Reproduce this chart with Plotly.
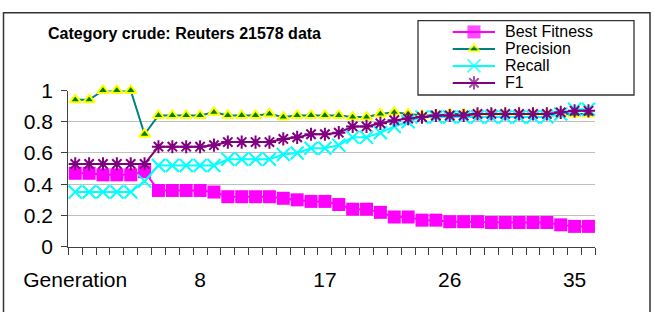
import plotly.graph_objects as go

# ---------------- data ----------------
generations = ["Generation", "0", "1", "2", "3", "4", "5", "6", "7", "8", "9", "10",
               "11", "12", "13", "14", "15", "16", "17", "18", "19", "20", "21",
               "22", "23", "24", "25", "26", "27", "28", "29", "30", "31", "32",
               "33", "34", "35", "36"]

best_fitness = [0.47, 0.47, 0.46, 0.46, 0.46, 0.48, 0.36, 0.36, 0.36, 0.36,
                0.35, 0.32, 0.32, 0.32, 0.32, 0.31, 0.30, 0.29, 0.29, 0.27,
                0.24, 0.24, 0.22, 0.19, 0.19, 0.17, 0.17, 0.16, 0.16, 0.16,
                0.155, 0.155, 0.155, 0.155, 0.155, 0.14, 0.13, 0.13]

precision = [0.94, 0.94, 1.0, 1.0, 1.0, 0.72, 0.84, 0.84, 0.84, 0.84,
             0.86, 0.84, 0.84, 0.84, 0.85, 0.83, 0.84, 0.84, 0.84, 0.84,
             0.83, 0.83, 0.85, 0.86, 0.85, 0.84, 0.84, 0.85, 0.85, 0.85,
             0.85, 0.85, 0.85, 0.85, 0.85, 0.85, 0.85, 0.85]

recall = [0.35, 0.35, 0.35, 0.35, 0.35, 0.42, 0.52, 0.52, 0.52, 0.52,
          0.52, 0.56, 0.56, 0.56, 0.56, 0.59, 0.60, 0.63, 0.63, 0.65,
          0.70, 0.70, 0.73, 0.77, 0.80, 0.83, 0.83, 0.83, 0.83, 0.83,
          0.83, 0.83, 0.83, 0.83, 0.83, 0.85, 0.88, 0.88]

f1 = [0.53, 0.53, 0.53, 0.53, 0.53, 0.53, 0.64, 0.64, 0.64, 0.64,
      0.65, 0.67, 0.67, 0.67, 0.67, 0.69, 0.70, 0.72, 0.72, 0.73,
      0.77, 0.77, 0.79, 0.81, 0.82, 0.83, 0.84, 0.84, 0.84, 0.85,
      0.85, 0.85, 0.85, 0.85, 0.85, 0.86, 0.87, 0.87]

series_names = ["Best Fitness", "Precision", "Recall", "F1"]
y_ticks = [0, 0.2, 0.4, 0.6, 0.8, 1]
y_tick_text = ["0", "0.2", "0.4", "0.6", "0.8", "1"]
x_label_step = 9
title_text = "Category crude: Reuters 21578 data"

# ---------------- styling ----------------
W, H = 654, 312
FONT = "Liberation Sans, Arial, sans-serif"
AXC = "#404040"

styles = {
    "Best Fitness": dict(line=dict(color="#FF00FF", width=2),
                         marker=dict(symbol="square", size=13, color="#FF00FF",
                                     line=dict(width=0))),
    "Precision": dict(line=dict(color="#008080", width=2),
                      marker=dict(symbol="triangle-up", size=10, color="#008000",
                                  line=dict(color="#FFFF00", width=2))),
    "Recall": dict(line=dict(color="#00FFFF", width=2),
                   marker=dict(symbol="x-thin", size=13, color="#00FFFF",
                               line=dict(color="#00FFFF", width=2))),
    "F1": dict(line=dict(color="#800080", width=2),
               marker=dict(symbol="asterisk", size=11, color="#800080",
                           line=dict(color="#800080", width=2))),
}
values = {"Best Fitness": best_fitness, "Precision": precision,
          "Recall": recall, "F1": f1}

# plot area in pixels
PL, PR, PT, PB = 68.3, 595.4, 90.5, 246.7
# legend box in pixels
LL, LR, LT, LB = 418, 634, 20.7, 95

fig = go.Figure()

for name in series_names:
    st = styles[name]
    fig.add_trace(go.Scatter(x=generations, y=values[name], mode="lines+markers",
                             name=name, line=st["line"], marker=st["marker"],
                             cliponaxis=False, showlegend=False, hoverinfo="skip"))

# dummy trace so the overlay label axis is drawn
fig.add_trace(go.Scatter(x=[generations[0]], y=[None], yaxis="y2",
                         showlegend=False, hoverinfo="skip", mode="markers"))

# manual legend (layout glyphs only)
row_h = 17.0
row0 = 11.2
for i, name in enumerate(series_names):
    st = styles[name]
    yy = row0 + i * row_h
    mk = dict(st["marker"])
    mk["size"] = [0, st["marker"]["size"], 0]
    fig.add_trace(go.Scatter(x=[34.7, 56, 77], y=[yy, yy, yy], mode="lines+markers",
                             line=st["line"], marker=mk, xaxis="x3", yaxis="y3",
                             showlegend=False, hoverinfo="skip", cliponaxis=False))
    fig.add_annotation(x=86, y=yy, xref="x3", yref="y3", text=name, showarrow=False,
                       xanchor="left", yanchor="middle", borderpad=0,
                       font=dict(family=FONT, size=16, color="black"))

x_tick_text = [g if i % x_label_step == 0 else "" for i, g in enumerate(generations)]

fig.update_layout(
    width=W, height=H,
    margin=dict(l=0, r=0, t=0, b=0),
    paper_bgcolor="white", plot_bgcolor="white",
    showlegend=False,
    font=dict(family=FONT, color="black"),
    xaxis=dict(domain=[PL / W, PR / W], type="category",
               categoryorder="array", categoryarray=generations,
               range=[-0.5, len(generations) - 0.5],
               tickvals=generations, ticktext=x_tick_text, tickangle=0,
               tickson="boundaries", ticks="outside", ticklen=7,
               tickcolor=AXC, tickwidth=1,
               showline=True, linecolor=AXC, linewidth=1.3,
               showgrid=False, zeroline=False, automargin=False,
               tickfont=dict(family=FONT, size=21, color="black"),
               ticklabelstandoff=14, anchor="y", fixedrange=True),
    yaxis=dict(domain=[(H - PB) / H, (H - PT) / H], range=[0, 1],
               tickvals=y_ticks[1:-1], showticklabels=False, ticks="",
               showgrid=True, gridcolor="#C0C0C0", gridwidth=1, automargin=False,
               showline=False, zeroline=False, anchor="x", fixedrange=True),
    yaxis2=dict(overlaying="y", anchor="x", range=[0, 1],
                tickvals=y_ticks, ticktext=y_tick_text,
                ticks="outside", ticklen=6, tickcolor=AXC, tickwidth=1,
                showline=True, linecolor=AXC, linewidth=1.3,
                showgrid=False, zeroline=False, automargin=False,
                tickfont=dict(family=FONT, size=21, color="black"),
                ticklabelstandoff=4, fixedrange=True),
    xaxis3=dict(domain=[LL / W, LR / W], range=[0, LR - LL], visible=False,
                anchor="y3", fixedrange=True, automargin=False),
    yaxis3=dict(domain=[(H - LB) / H, (H - LT) / H], range=[LB - LT, 0],
                visible=False, anchor="x3", fixedrange=True, automargin=False),
)

fig.add_annotation(x=184 / W, y=(H - 34) / H, xref="paper", yref="paper",
                   text="<b>" + title_text + "</b>", showarrow=False,
                   xanchor="center", yanchor="middle",
                   font=dict(family=FONT, size=16, color="black"))

# outer chart border (bottom edge falls outside the picture)
fig.add_shape(type="rect", xref="paper", yref="paper",
              x0=3.5 / W, x1=650 / W, y0=-0.2, y1=(H - 12.7) / H,
              line=dict(color="#333333", width=1.5), fillcolor="rgba(0,0,0,0)")
# legend border
fig.add_shape(type="rect", xref="paper", yref="paper",
              x0=LL / W, x1=LR / W, y0=(H - LB) / H, y1=(H - LT) / H,
              line=dict(color="#333333", width=1.3), fillcolor="rgba(0,0,0,0)")

fig.write_html("out.html")
